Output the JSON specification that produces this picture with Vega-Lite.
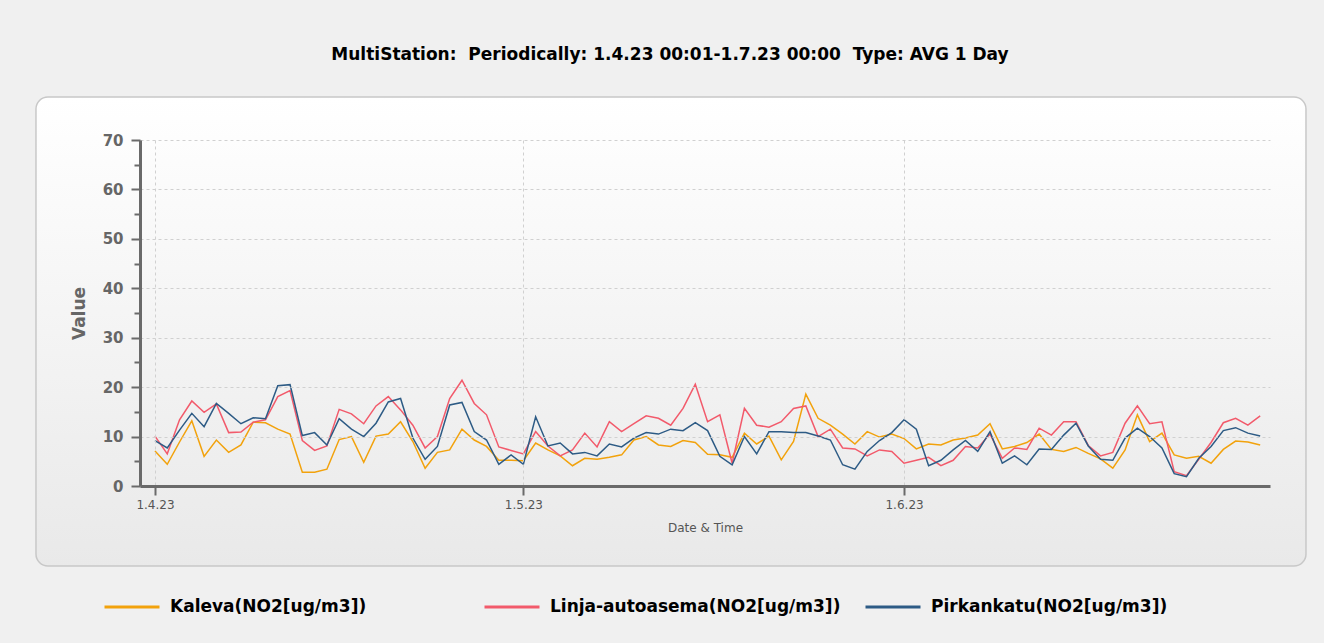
{
  "$schema": "https://vega.github.io/schema/vega-lite/v6.json",
  "width": 1130,
  "height": 346,
  "autosize": {"type": "none"},
  "padding": {"left": 140, "top": 140, "right": 54, "bottom": 157},
  "background": "#f0f0f0",
  "title": {
    "text": "MultiStation: \u00a0Periodically: 1.4.23 00:01-1.7.23 00:00 \u00a0Type: AVG 1 Day",
    "anchor": "middle",
    "dx": -35,
    "offset": 32,
    "font": "DejaVu Sans",
    "fontSize": 17,
    "fontWeight": "bold",
    "color": "#000000"
  },
  "config": {"view": {"stroke": null}, "font": "DejaVu Sans"},
  "datasets": {
    "no2": [
      {"date":"2023-04-01","station":"Kaleva(NO2[ug/m3])","value":7.1},
      {"date":"2023-04-02","station":"Kaleva(NO2[ug/m3])","value":4.4},
      {"date":"2023-04-03","station":"Kaleva(NO2[ug/m3])","value":8.9},
      {"date":"2023-04-04","station":"Kaleva(NO2[ug/m3])","value":13.2},
      {"date":"2023-04-05","station":"Kaleva(NO2[ug/m3])","value":6.0},
      {"date":"2023-04-06","station":"Kaleva(NO2[ug/m3])","value":9.3},
      {"date":"2023-04-07","station":"Kaleva(NO2[ug/m3])","value":6.8},
      {"date":"2023-04-08","station":"Kaleva(NO2[ug/m3])","value":8.3},
      {"date":"2023-04-09","station":"Kaleva(NO2[ug/m3])","value":12.9},
      {"date":"2023-04-10","station":"Kaleva(NO2[ug/m3])","value":12.8},
      {"date":"2023-04-11","station":"Kaleva(NO2[ug/m3])","value":11.5},
      {"date":"2023-04-12","station":"Kaleva(NO2[ug/m3])","value":10.5},
      {"date":"2023-04-13","station":"Kaleva(NO2[ug/m3])","value":2.8},
      {"date":"2023-04-14","station":"Kaleva(NO2[ug/m3])","value":2.8},
      {"date":"2023-04-15","station":"Kaleva(NO2[ug/m3])","value":3.4},
      {"date":"2023-04-16","station":"Kaleva(NO2[ug/m3])","value":9.4},
      {"date":"2023-04-17","station":"Kaleva(NO2[ug/m3])","value":10.0},
      {"date":"2023-04-18","station":"Kaleva(NO2[ug/m3])","value":4.8},
      {"date":"2023-04-19","station":"Kaleva(NO2[ug/m3])","value":10.1},
      {"date":"2023-04-20","station":"Kaleva(NO2[ug/m3])","value":10.5},
      {"date":"2023-04-21","station":"Kaleva(NO2[ug/m3])","value":13.0},
      {"date":"2023-04-22","station":"Kaleva(NO2[ug/m3])","value":9.0},
      {"date":"2023-04-23","station":"Kaleva(NO2[ug/m3])","value":3.6},
      {"date":"2023-04-24","station":"Kaleva(NO2[ug/m3])","value":6.8},
      {"date":"2023-04-25","station":"Kaleva(NO2[ug/m3])","value":7.3},
      {"date":"2023-04-26","station":"Kaleva(NO2[ug/m3])","value":11.5},
      {"date":"2023-04-27","station":"Kaleva(NO2[ug/m3])","value":9.3},
      {"date":"2023-04-28","station":"Kaleva(NO2[ug/m3])","value":8.0},
      {"date":"2023-04-29","station":"Kaleva(NO2[ug/m3])","value":5.2},
      {"date":"2023-04-30","station":"Kaleva(NO2[ug/m3])","value":5.2},
      {"date":"2023-05-01","station":"Kaleva(NO2[ug/m3])","value":5.1},
      {"date":"2023-05-02","station":"Kaleva(NO2[ug/m3])","value":8.7},
      {"date":"2023-05-03","station":"Kaleva(NO2[ug/m3])","value":7.3},
      {"date":"2023-05-04","station":"Kaleva(NO2[ug/m3])","value":6.1},
      {"date":"2023-05-05","station":"Kaleva(NO2[ug/m3])","value":4.1},
      {"date":"2023-05-06","station":"Kaleva(NO2[ug/m3])","value":5.6},
      {"date":"2023-05-07","station":"Kaleva(NO2[ug/m3])","value":5.4},
      {"date":"2023-05-08","station":"Kaleva(NO2[ug/m3])","value":5.8},
      {"date":"2023-05-09","station":"Kaleva(NO2[ug/m3])","value":6.3},
      {"date":"2023-05-10","station":"Kaleva(NO2[ug/m3])","value":9.3},
      {"date":"2023-05-11","station":"Kaleva(NO2[ug/m3])","value":10.0},
      {"date":"2023-05-12","station":"Kaleva(NO2[ug/m3])","value":8.3},
      {"date":"2023-05-13","station":"Kaleva(NO2[ug/m3])","value":8.0},
      {"date":"2023-05-14","station":"Kaleva(NO2[ug/m3])","value":9.2},
      {"date":"2023-05-15","station":"Kaleva(NO2[ug/m3])","value":8.8},
      {"date":"2023-05-16","station":"Kaleva(NO2[ug/m3])","value":6.4},
      {"date":"2023-05-17","station":"Kaleva(NO2[ug/m3])","value":6.3},
      {"date":"2023-05-18","station":"Kaleva(NO2[ug/m3])","value":5.8},
      {"date":"2023-05-19","station":"Kaleva(NO2[ug/m3])","value":10.7},
      {"date":"2023-05-20","station":"Kaleva(NO2[ug/m3])","value":8.5},
      {"date":"2023-05-21","station":"Kaleva(NO2[ug/m3])","value":10.1},
      {"date":"2023-05-22","station":"Kaleva(NO2[ug/m3])","value":5.3},
      {"date":"2023-05-23","station":"Kaleva(NO2[ug/m3])","value":9.0},
      {"date":"2023-05-24","station":"Kaleva(NO2[ug/m3])","value":18.6},
      {"date":"2023-05-25","station":"Kaleva(NO2[ug/m3])","value":13.7},
      {"date":"2023-05-26","station":"Kaleva(NO2[ug/m3])","value":12.3},
      {"date":"2023-05-27","station":"Kaleva(NO2[ug/m3])","value":10.5},
      {"date":"2023-05-28","station":"Kaleva(NO2[ug/m3])","value":8.5},
      {"date":"2023-05-29","station":"Kaleva(NO2[ug/m3])","value":11.0},
      {"date":"2023-05-30","station":"Kaleva(NO2[ug/m3])","value":9.9},
      {"date":"2023-05-31","station":"Kaleva(NO2[ug/m3])","value":10.5},
      {"date":"2023-06-01","station":"Kaleva(NO2[ug/m3])","value":9.6},
      {"date":"2023-06-02","station":"Kaleva(NO2[ug/m3])","value":7.5},
      {"date":"2023-06-03","station":"Kaleva(NO2[ug/m3])","value":8.5},
      {"date":"2023-06-04","station":"Kaleva(NO2[ug/m3])","value":8.3},
      {"date":"2023-06-05","station":"Kaleva(NO2[ug/m3])","value":9.3},
      {"date":"2023-06-06","station":"Kaleva(NO2[ug/m3])","value":9.7},
      {"date":"2023-06-07","station":"Kaleva(NO2[ug/m3])","value":10.3},
      {"date":"2023-06-08","station":"Kaleva(NO2[ug/m3])","value":12.6},
      {"date":"2023-06-09","station":"Kaleva(NO2[ug/m3])","value":7.5},
      {"date":"2023-06-10","station":"Kaleva(NO2[ug/m3])","value":8.0},
      {"date":"2023-06-11","station":"Kaleva(NO2[ug/m3])","value":8.8},
      {"date":"2023-06-12","station":"Kaleva(NO2[ug/m3])","value":10.5},
      {"date":"2023-06-13","station":"Kaleva(NO2[ug/m3])","value":7.4},
      {"date":"2023-06-14","station":"Kaleva(NO2[ug/m3])","value":7.0},
      {"date":"2023-06-15","station":"Kaleva(NO2[ug/m3])","value":7.8},
      {"date":"2023-06-16","station":"Kaleva(NO2[ug/m3])","value":6.6},
      {"date":"2023-06-17","station":"Kaleva(NO2[ug/m3])","value":5.5},
      {"date":"2023-06-18","station":"Kaleva(NO2[ug/m3])","value":3.6},
      {"date":"2023-06-19","station":"Kaleva(NO2[ug/m3])","value":7.3},
      {"date":"2023-06-20","station":"Kaleva(NO2[ug/m3])","value":14.4},
      {"date":"2023-06-21","station":"Kaleva(NO2[ug/m3])","value":9.0},
      {"date":"2023-06-22","station":"Kaleva(NO2[ug/m3])","value":10.7},
      {"date":"2023-06-23","station":"Kaleva(NO2[ug/m3])","value":6.3},
      {"date":"2023-06-24","station":"Kaleva(NO2[ug/m3])","value":5.6},
      {"date":"2023-06-25","station":"Kaleva(NO2[ug/m3])","value":6.0},
      {"date":"2023-06-26","station":"Kaleva(NO2[ug/m3])","value":4.6},
      {"date":"2023-06-27","station":"Kaleva(NO2[ug/m3])","value":7.4},
      {"date":"2023-06-28","station":"Kaleva(NO2[ug/m3])","value":9.1},
      {"date":"2023-06-29","station":"Kaleva(NO2[ug/m3])","value":8.9},
      {"date":"2023-06-30","station":"Kaleva(NO2[ug/m3])","value":8.3},

      {"date":"2023-04-01","station":"Linja-autoasema(NO2[ug/m3])","value":10.1},
      {"date":"2023-04-02","station":"Linja-autoasema(NO2[ug/m3])","value":6.5},
      {"date":"2023-04-03","station":"Linja-autoasema(NO2[ug/m3])","value":13.4},
      {"date":"2023-04-04","station":"Linja-autoasema(NO2[ug/m3])","value":17.2},
      {"date":"2023-04-05","station":"Linja-autoasema(NO2[ug/m3])","value":14.9},
      {"date":"2023-04-06","station":"Linja-autoasema(NO2[ug/m3])","value":16.6},
      {"date":"2023-04-07","station":"Linja-autoasema(NO2[ug/m3])","value":10.8},
      {"date":"2023-04-08","station":"Linja-autoasema(NO2[ug/m3])","value":10.9},
      {"date":"2023-04-09","station":"Linja-autoasema(NO2[ug/m3])","value":12.9},
      {"date":"2023-04-10","station":"Linja-autoasema(NO2[ug/m3])","value":13.4},
      {"date":"2023-04-11","station":"Linja-autoasema(NO2[ug/m3])","value":18.1},
      {"date":"2023-04-12","station":"Linja-autoasema(NO2[ug/m3])","value":19.3},
      {"date":"2023-04-13","station":"Linja-autoasema(NO2[ug/m3])","value":9.2},
      {"date":"2023-04-14","station":"Linja-autoasema(NO2[ug/m3])","value":7.2},
      {"date":"2023-04-15","station":"Linja-autoasema(NO2[ug/m3])","value":8.1},
      {"date":"2023-04-16","station":"Linja-autoasema(NO2[ug/m3])","value":15.5},
      {"date":"2023-04-17","station":"Linja-autoasema(NO2[ug/m3])","value":14.6},
      {"date":"2023-04-18","station":"Linja-autoasema(NO2[ug/m3])","value":12.6},
      {"date":"2023-04-19","station":"Linja-autoasema(NO2[ug/m3])","value":16.2},
      {"date":"2023-04-20","station":"Linja-autoasema(NO2[ug/m3])","value":18.1},
      {"date":"2023-04-21","station":"Linja-autoasema(NO2[ug/m3])","value":15.4},
      {"date":"2023-04-22","station":"Linja-autoasema(NO2[ug/m3])","value":12.3},
      {"date":"2023-04-23","station":"Linja-autoasema(NO2[ug/m3])","value":7.7},
      {"date":"2023-04-24","station":"Linja-autoasema(NO2[ug/m3])","value":10.0},
      {"date":"2023-04-25","station":"Linja-autoasema(NO2[ug/m3])","value":17.7},
      {"date":"2023-04-26","station":"Linja-autoasema(NO2[ug/m3])","value":21.4},
      {"date":"2023-04-27","station":"Linja-autoasema(NO2[ug/m3])","value":16.7},
      {"date":"2023-04-28","station":"Linja-autoasema(NO2[ug/m3])","value":14.4},
      {"date":"2023-04-29","station":"Linja-autoasema(NO2[ug/m3])","value":7.9},
      {"date":"2023-04-30","station":"Linja-autoasema(NO2[ug/m3])","value":7.2},
      {"date":"2023-05-01","station":"Linja-autoasema(NO2[ug/m3])","value":6.5},
      {"date":"2023-05-02","station":"Linja-autoasema(NO2[ug/m3])","value":11.0},
      {"date":"2023-05-03","station":"Linja-autoasema(NO2[ug/m3])","value":8.1},
      {"date":"2023-05-04","station":"Linja-autoasema(NO2[ug/m3])","value":6.1},
      {"date":"2023-05-05","station":"Linja-autoasema(NO2[ug/m3])","value":7.3},
      {"date":"2023-05-06","station":"Linja-autoasema(NO2[ug/m3])","value":10.7},
      {"date":"2023-05-07","station":"Linja-autoasema(NO2[ug/m3])","value":7.9},
      {"date":"2023-05-08","station":"Linja-autoasema(NO2[ug/m3])","value":13.0},
      {"date":"2023-05-09","station":"Linja-autoasema(NO2[ug/m3])","value":11.0},
      {"date":"2023-05-10","station":"Linja-autoasema(NO2[ug/m3])","value":12.6},
      {"date":"2023-05-11","station":"Linja-autoasema(NO2[ug/m3])","value":14.2},
      {"date":"2023-05-12","station":"Linja-autoasema(NO2[ug/m3])","value":13.7},
      {"date":"2023-05-13","station":"Linja-autoasema(NO2[ug/m3])","value":12.3},
      {"date":"2023-05-14","station":"Linja-autoasema(NO2[ug/m3])","value":15.7},
      {"date":"2023-05-15","station":"Linja-autoasema(NO2[ug/m3])","value":20.6},
      {"date":"2023-05-16","station":"Linja-autoasema(NO2[ug/m3])","value":13.0},
      {"date":"2023-05-17","station":"Linja-autoasema(NO2[ug/m3])","value":14.4},
      {"date":"2023-05-18","station":"Linja-autoasema(NO2[ug/m3])","value":4.6},
      {"date":"2023-05-19","station":"Linja-autoasema(NO2[ug/m3])","value":15.7},
      {"date":"2023-05-20","station":"Linja-autoasema(NO2[ug/m3])","value":12.3},
      {"date":"2023-05-21","station":"Linja-autoasema(NO2[ug/m3])","value":11.9},
      {"date":"2023-05-22","station":"Linja-autoasema(NO2[ug/m3])","value":13.0},
      {"date":"2023-05-23","station":"Linja-autoasema(NO2[ug/m3])","value":15.7},
      {"date":"2023-05-24","station":"Linja-autoasema(NO2[ug/m3])","value":16.2},
      {"date":"2023-05-25","station":"Linja-autoasema(NO2[ug/m3])","value":10.0},
      {"date":"2023-05-26","station":"Linja-autoasema(NO2[ug/m3])","value":11.5},
      {"date":"2023-05-27","station":"Linja-autoasema(NO2[ug/m3])","value":7.7},
      {"date":"2023-05-28","station":"Linja-autoasema(NO2[ug/m3])","value":7.5},
      {"date":"2023-05-29","station":"Linja-autoasema(NO2[ug/m3])","value":6.1},
      {"date":"2023-05-30","station":"Linja-autoasema(NO2[ug/m3])","value":7.3},
      {"date":"2023-05-31","station":"Linja-autoasema(NO2[ug/m3])","value":7.0},
      {"date":"2023-06-01","station":"Linja-autoasema(NO2[ug/m3])","value":4.6},
      {"date":"2023-06-02","station":"Linja-autoasema(NO2[ug/m3])","value":5.2},
      {"date":"2023-06-03","station":"Linja-autoasema(NO2[ug/m3])","value":5.8},
      {"date":"2023-06-04","station":"Linja-autoasema(NO2[ug/m3])","value":4.1},
      {"date":"2023-06-05","station":"Linja-autoasema(NO2[ug/m3])","value":5.2},
      {"date":"2023-06-06","station":"Linja-autoasema(NO2[ug/m3])","value":8.0},
      {"date":"2023-06-07","station":"Linja-autoasema(NO2[ug/m3])","value":7.7},
      {"date":"2023-06-08","station":"Linja-autoasema(NO2[ug/m3])","value":10.5},
      {"date":"2023-06-09","station":"Linja-autoasema(NO2[ug/m3])","value":5.6},
      {"date":"2023-06-10","station":"Linja-autoasema(NO2[ug/m3])","value":7.7},
      {"date":"2023-06-11","station":"Linja-autoasema(NO2[ug/m3])","value":7.4},
      {"date":"2023-06-12","station":"Linja-autoasema(NO2[ug/m3])","value":11.7},
      {"date":"2023-06-13","station":"Linja-autoasema(NO2[ug/m3])","value":10.3},
      {"date":"2023-06-14","station":"Linja-autoasema(NO2[ug/m3])","value":13.0},
      {"date":"2023-06-15","station":"Linja-autoasema(NO2[ug/m3])","value":13.0},
      {"date":"2023-06-16","station":"Linja-autoasema(NO2[ug/m3])","value":8.2},
      {"date":"2023-06-17","station":"Linja-autoasema(NO2[ug/m3])","value":6.1},
      {"date":"2023-06-18","station":"Linja-autoasema(NO2[ug/m3])","value":6.8},
      {"date":"2023-06-19","station":"Linja-autoasema(NO2[ug/m3])","value":12.7},
      {"date":"2023-06-20","station":"Linja-autoasema(NO2[ug/m3])","value":16.2},
      {"date":"2023-06-21","station":"Linja-autoasema(NO2[ug/m3])","value":12.6},
      {"date":"2023-06-22","station":"Linja-autoasema(NO2[ug/m3])","value":13.0},
      {"date":"2023-06-23","station":"Linja-autoasema(NO2[ug/m3])","value":2.9},
      {"date":"2023-06-24","station":"Linja-autoasema(NO2[ug/m3])","value":2.1},
      {"date":"2023-06-25","station":"Linja-autoasema(NO2[ug/m3])","value":5.4},
      {"date":"2023-06-26","station":"Linja-autoasema(NO2[ug/m3])","value":8.8},
      {"date":"2023-06-27","station":"Linja-autoasema(NO2[ug/m3])","value":12.8},
      {"date":"2023-06-28","station":"Linja-autoasema(NO2[ug/m3])","value":13.7},
      {"date":"2023-06-29","station":"Linja-autoasema(NO2[ug/m3])","value":12.3},
      {"date":"2023-06-30","station":"Linja-autoasema(NO2[ug/m3])","value":14.2},

      {"date":"2023-04-01","station":"Pirkankatu(NO2[ug/m3])","value":9.2},
      {"date":"2023-04-02","station":"Pirkankatu(NO2[ug/m3])","value":7.7},
      {"date":"2023-04-03","station":"Pirkankatu(NO2[ug/m3])","value":11.3},
      {"date":"2023-04-04","station":"Pirkankatu(NO2[ug/m3])","value":14.7},
      {"date":"2023-04-05","station":"Pirkankatu(NO2[ug/m3])","value":12.0},
      {"date":"2023-04-06","station":"Pirkankatu(NO2[ug/m3])","value":16.7},
      {"date":"2023-04-07","station":"Pirkankatu(NO2[ug/m3])","value":14.7},
      {"date":"2023-04-08","station":"Pirkankatu(NO2[ug/m3])","value":12.6},
      {"date":"2023-04-09","station":"Pirkankatu(NO2[ug/m3])","value":13.8},
      {"date":"2023-04-10","station":"Pirkankatu(NO2[ug/m3])","value":13.6},
      {"date":"2023-04-11","station":"Pirkankatu(NO2[ug/m3])","value":20.3},
      {"date":"2023-04-12","station":"Pirkankatu(NO2[ug/m3])","value":20.5},
      {"date":"2023-04-13","station":"Pirkankatu(NO2[ug/m3])","value":10.2},
      {"date":"2023-04-14","station":"Pirkankatu(NO2[ug/m3])","value":10.8},
      {"date":"2023-04-15","station":"Pirkankatu(NO2[ug/m3])","value":8.3},
      {"date":"2023-04-16","station":"Pirkankatu(NO2[ug/m3])","value":13.6},
      {"date":"2023-04-17","station":"Pirkankatu(NO2[ug/m3])","value":11.5},
      {"date":"2023-04-18","station":"Pirkankatu(NO2[ug/m3])","value":10.0},
      {"date":"2023-04-19","station":"Pirkankatu(NO2[ug/m3])","value":12.7},
      {"date":"2023-04-20","station":"Pirkankatu(NO2[ug/m3])","value":17.0},
      {"date":"2023-04-21","station":"Pirkankatu(NO2[ug/m3])","value":17.7},
      {"date":"2023-04-22","station":"Pirkankatu(NO2[ug/m3])","value":9.7},
      {"date":"2023-04-23","station":"Pirkankatu(NO2[ug/m3])","value":5.4},
      {"date":"2023-04-24","station":"Pirkankatu(NO2[ug/m3])","value":8.0},
      {"date":"2023-04-25","station":"Pirkankatu(NO2[ug/m3])","value":16.4},
      {"date":"2023-04-26","station":"Pirkankatu(NO2[ug/m3])","value":16.9},
      {"date":"2023-04-27","station":"Pirkankatu(NO2[ug/m3])","value":11.0},
      {"date":"2023-04-28","station":"Pirkankatu(NO2[ug/m3])","value":9.3},
      {"date":"2023-04-29","station":"Pirkankatu(NO2[ug/m3])","value":4.4},
      {"date":"2023-04-30","station":"Pirkankatu(NO2[ug/m3])","value":6.3},
      {"date":"2023-05-01","station":"Pirkankatu(NO2[ug/m3])","value":4.4},
      {"date":"2023-05-02","station":"Pirkankatu(NO2[ug/m3])","value":14.0},
      {"date":"2023-05-03","station":"Pirkankatu(NO2[ug/m3])","value":8.1},
      {"date":"2023-05-04","station":"Pirkankatu(NO2[ug/m3])","value":8.7},
      {"date":"2023-05-05","station":"Pirkankatu(NO2[ug/m3])","value":6.5},
      {"date":"2023-05-06","station":"Pirkankatu(NO2[ug/m3])","value":6.8},
      {"date":"2023-05-07","station":"Pirkankatu(NO2[ug/m3])","value":6.1},
      {"date":"2023-05-08","station":"Pirkankatu(NO2[ug/m3])","value":8.5},
      {"date":"2023-05-09","station":"Pirkankatu(NO2[ug/m3])","value":7.9},
      {"date":"2023-05-10","station":"Pirkankatu(NO2[ug/m3])","value":9.7},
      {"date":"2023-05-11","station":"Pirkankatu(NO2[ug/m3])","value":10.8},
      {"date":"2023-05-12","station":"Pirkankatu(NO2[ug/m3])","value":10.5},
      {"date":"2023-05-13","station":"Pirkankatu(NO2[ug/m3])","value":11.5},
      {"date":"2023-05-14","station":"Pirkankatu(NO2[ug/m3])","value":11.2},
      {"date":"2023-05-15","station":"Pirkankatu(NO2[ug/m3])","value":12.8},
      {"date":"2023-05-16","station":"Pirkankatu(NO2[ug/m3])","value":11.2},
      {"date":"2023-05-17","station":"Pirkankatu(NO2[ug/m3])","value":6.0},
      {"date":"2023-05-18","station":"Pirkankatu(NO2[ug/m3])","value":4.3},
      {"date":"2023-05-19","station":"Pirkankatu(NO2[ug/m3])","value":10.0},
      {"date":"2023-05-20","station":"Pirkankatu(NO2[ug/m3])","value":6.5},
      {"date":"2023-05-21","station":"Pirkankatu(NO2[ug/m3])","value":11.0},
      {"date":"2023-05-22","station":"Pirkankatu(NO2[ug/m3])","value":11.0},
      {"date":"2023-05-23","station":"Pirkankatu(NO2[ug/m3])","value":10.8},
      {"date":"2023-05-24","station":"Pirkankatu(NO2[ug/m3])","value":10.8},
      {"date":"2023-05-25","station":"Pirkankatu(NO2[ug/m3])","value":10.1},
      {"date":"2023-05-26","station":"Pirkankatu(NO2[ug/m3])","value":9.3},
      {"date":"2023-05-27","station":"Pirkankatu(NO2[ug/m3])","value":4.3},
      {"date":"2023-05-28","station":"Pirkankatu(NO2[ug/m3])","value":3.4},
      {"date":"2023-05-29","station":"Pirkankatu(NO2[ug/m3])","value":7.0},
      {"date":"2023-05-30","station":"Pirkankatu(NO2[ug/m3])","value":9.2},
      {"date":"2023-05-31","station":"Pirkankatu(NO2[ug/m3])","value":10.8},
      {"date":"2023-06-01","station":"Pirkankatu(NO2[ug/m3])","value":13.4},
      {"date":"2023-06-02","station":"Pirkankatu(NO2[ug/m3])","value":11.5},
      {"date":"2023-06-03","station":"Pirkankatu(NO2[ug/m3])","value":4.1},
      {"date":"2023-06-04","station":"Pirkankatu(NO2[ug/m3])","value":5.2},
      {"date":"2023-06-05","station":"Pirkankatu(NO2[ug/m3])","value":7.3},
      {"date":"2023-06-06","station":"Pirkankatu(NO2[ug/m3])","value":9.2},
      {"date":"2023-06-07","station":"Pirkankatu(NO2[ug/m3])","value":7.0},
      {"date":"2023-06-08","station":"Pirkankatu(NO2[ug/m3])","value":11.0},
      {"date":"2023-06-09","station":"Pirkankatu(NO2[ug/m3])","value":4.6},
      {"date":"2023-06-10","station":"Pirkankatu(NO2[ug/m3])","value":6.1},
      {"date":"2023-06-11","station":"Pirkankatu(NO2[ug/m3])","value":4.3},
      {"date":"2023-06-12","station":"Pirkankatu(NO2[ug/m3])","value":7.5},
      {"date":"2023-06-13","station":"Pirkankatu(NO2[ug/m3])","value":7.4},
      {"date":"2023-06-14","station":"Pirkankatu(NO2[ug/m3])","value":10.3},
      {"date":"2023-06-15","station":"Pirkankatu(NO2[ug/m3])","value":12.7},
      {"date":"2023-06-16","station":"Pirkankatu(NO2[ug/m3])","value":8.1},
      {"date":"2023-06-17","station":"Pirkankatu(NO2[ug/m3])","value":5.4},
      {"date":"2023-06-18","station":"Pirkankatu(NO2[ug/m3])","value":5.2},
      {"date":"2023-06-19","station":"Pirkankatu(NO2[ug/m3])","value":9.7},
      {"date":"2023-06-20","station":"Pirkankatu(NO2[ug/m3])","value":11.7},
      {"date":"2023-06-21","station":"Pirkankatu(NO2[ug/m3])","value":10.0},
      {"date":"2023-06-22","station":"Pirkankatu(NO2[ug/m3])","value":7.7},
      {"date":"2023-06-23","station":"Pirkankatu(NO2[ug/m3])","value":2.5},
      {"date":"2023-06-24","station":"Pirkankatu(NO2[ug/m3])","value":1.9},
      {"date":"2023-06-25","station":"Pirkankatu(NO2[ug/m3])","value":5.6},
      {"date":"2023-06-26","station":"Pirkankatu(NO2[ug/m3])","value":8.0},
      {"date":"2023-06-27","station":"Pirkankatu(NO2[ug/m3])","value":11.2},
      {"date":"2023-06-28","station":"Pirkankatu(NO2[ug/m3])","value":11.8},
      {"date":"2023-06-29","station":"Pirkankatu(NO2[ug/m3])","value":10.7},
      {"date":"2023-06-30","station":"Pirkankatu(NO2[ug/m3])","value":10.1}
    ]
  },
  "layer": [
    {
      "data": {"values": [{"panel": "frame"}]},
      "mark": {
        "type": "rect",
        "clip": false,
        "cornerRadius": 12,
        "stroke": "#c8c8c8",
        "strokeWidth": 1.5,
        "fill": {
          "gradient": "linear",
          "x1": 0, "y1": 0, "x2": 0, "y2": 1,
          "stops": [
            {"offset": 0, "color": "#ffffff"},
            {"offset": 1, "color": "#e9e9e9"}
          ]
        }
      },
      "encoding": {
        "x": {
          "datum": {"year": 2023, "month": 3, "date": 22, "hours": 7, "minutes": 26, "utc": true},
          "type": "temporal",
          "scale": {"type": "utc", "domain": [
            {"year": 2023, "month": 3, "date": 30, "hours": 18, "minutes": 44, "utc": true},
            {"year": 2023, "month": 6, "date": 30, "hours": 19, "minutes": 12, "utc": true}
          ]},
          "axis": {
            "title": "Date & Time",
            "values": [
              {"year": 2023, "month": 4, "date": 1, "utc": true},
              {"year": 2023, "month": 5, "date": 1, "utc": true},
              {"year": 2023, "month": 6, "date": 1, "utc": true}
            ],
            "labelExpr": "utcFormat(datum.value, '%-d.%-m.%y')",
            "grid": true,
            "gridColor": "#d0d0d0",
            "gridDash": [3, 3],
            "domainColor": "#6a6a6a",
            "domainWidth": 3,
            "tickColor": "#6a6a6a",
            "tickWidth": 2,
            "tickSize": 9,
            "labelFont": "DejaVu Sans",
            "labelFontSize": 12,
            "labelColor": "#555555",
            "labelPadding": 4,
            "titleFont": "DejaVu Sans",
            "titleFontSize": 12,
            "titleFontWeight": "normal",
            "titleColor": "#555555",
            "titlePadding": 12,
            "zindex": 1
          }
        },
        "x2": {"datum": {"year": 2023, "month": 7, "date": 3, "hours": 17, "minutes": 31, "utc": true}},
        "y": {
          "datum": 78.7,
          "type": "quantitative",
          "scale": {"domain": [0, 70]},
          "axis": {
            "title": "Value",
            "values": [0, 5, 10, 15, 20, 25, 30, 35, 40, 45, 50, 55, 60, 65, 70],
            "labelExpr": "datum.value % 10 == 0 ? datum.label : ''",
            "tickSize": {"condition": {"test": "datum.value % 10 == 0", "value": 9}, "value": 6},
            "grid": true,
            "gridOpacity": {"condition": {"test": "datum.value % 10 == 0 && datum.value > 0", "value": 1}, "value": 0},
            "gridColor": "#d0d0d0",
            "gridDash": [3, 3],
            "domainColor": "#6a6a6a",
            "domainWidth": 3,
            "tickColor": "#6a6a6a",
            "tickWidth": 2,
            "labelFont": "DejaVu Sans",
            "labelFontSize": 15,
            "labelFontWeight": "bold",
            "labelColor": "#666666",
            "labelPadding": 8,
            "titleFont": "DejaVu Sans",
            "titleFontSize": 17,
            "titleFontWeight": "bold",
            "titleColor": "#666666",
            "titlePadding": 14,
            "zindex": 1
          }
        },
        "y2": {"datum": -16.2}
      }
    },
    {
      "data": {"name": "no2"},
      "encoding": {
        "x": {
          "field": "date",
          "type": "temporal",
          "scale": {"type": "utc", "domain": [
            {"year": 2023, "month": 3, "date": 30, "hours": 18, "minutes": 44, "utc": true},
            {"year": 2023, "month": 6, "date": 30, "hours": 19, "minutes": 12, "utc": true}
          ]},
          "axis": {
            "title": "Date & Time",
            "values": [
              {"year": 2023, "month": 4, "date": 1, "utc": true},
              {"year": 2023, "month": 5, "date": 1, "utc": true},
              {"year": 2023, "month": 6, "date": 1, "utc": true}
            ],
            "labelExpr": "utcFormat(datum.value, '%-d.%-m.%y')",
            "grid": true,
            "gridColor": "#d0d0d0",
            "gridDash": [3, 3],
            "domainColor": "#6a6a6a",
            "domainWidth": 3,
            "tickColor": "#6a6a6a",
            "tickWidth": 2,
            "tickSize": 9,
            "labelFont": "DejaVu Sans",
            "labelFontSize": 12,
            "labelColor": "#555555",
            "labelPadding": 4,
            "titleFont": "DejaVu Sans",
            "titleFontSize": 12,
            "titleFontWeight": "normal",
            "titleColor": "#555555",
            "titlePadding": 12,
            "zindex": 1
          }
        },
        "y": {
          "field": "value",
          "type": "quantitative",
          "scale": {"domain": [0, 70]},
          "axis": {
            "title": "Value",
            "values": [0, 5, 10, 15, 20, 25, 30, 35, 40, 45, 50, 55, 60, 65, 70],
            "labelExpr": "datum.value % 10 == 0 ? datum.label : ''",
            "tickSize": {"condition": {"test": "datum.value % 10 == 0", "value": 9}, "value": 6},
            "grid": true,
            "gridOpacity": {"condition": {"test": "datum.value % 10 == 0 && datum.value > 0", "value": 1}, "value": 0},
            "gridColor": "#d0d0d0",
            "gridDash": [3, 3],
            "domainColor": "#6a6a6a",
            "domainWidth": 3,
            "tickColor": "#6a6a6a",
            "tickWidth": 2,
            "labelFont": "DejaVu Sans",
            "labelFontSize": 15,
            "labelFontWeight": "bold",
            "labelColor": "#666666",
            "labelPadding": 8,
            "titleFont": "DejaVu Sans",
            "titleFontSize": 17,
            "titleFontWeight": "bold",
            "titleColor": "#666666",
            "titlePadding": 14,
            "zindex": 1
          }
        }
      },
      "layer": [
        {
          "transform": [{"filter": "datum.station == 'Kaleva(NO2[ug/m3])'"}],
          "mark": {"type": "line", "strokeWidth": 1.5},
          "encoding": {
            "stroke": {
              "field": "station",
              "type": "nominal",
              "scale": {"domain": ["Kaleva(NO2[ug/m3])"], "range": ["#f2a20c"]},
              "legend": {
                "title": null, "orient": "none", "legendX": -37, "legendY": 438, "padding": 0,
                "symbolType": "stroke", "symbolSize": 3025, "symbolStrokeWidth": 3,
                "labelFont": "DejaVu Sans", "labelFontSize": 17, "labelFontWeight": "bold",
                "labelColor": "#000000", "labelOffset": 9, "labelLimit": 500
              }
            }
          }
        },
        {
          "transform": [{"filter": "datum.station == 'Linja-autoasema(NO2[ug/m3])'"}],
          "mark": {"type": "line", "strokeWidth": 1.5},
          "encoding": {
            "stroke": {
              "field": "station",
              "type": "nominal",
              "scale": {"domain": ["Linja-autoasema(NO2[ug/m3])"], "range": ["#f25a6b"]},
              "legend": {
                "title": null, "orient": "none", "legendX": 343, "legendY": 438, "padding": 0,
                "symbolType": "stroke", "symbolSize": 3025, "symbolStrokeWidth": 3,
                "labelFont": "DejaVu Sans", "labelFontSize": 17, "labelFontWeight": "bold",
                "labelColor": "#000000", "labelOffset": 9, "labelLimit": 500
              }
            }
          }
        },
        {
          "transform": [{"filter": "datum.station == 'Pirkankatu(NO2[ug/m3])'"}],
          "mark": {"type": "line", "strokeWidth": 1.5},
          "encoding": {
            "stroke": {
              "field": "station",
              "type": "nominal",
              "scale": {"domain": ["Pirkankatu(NO2[ug/m3])"], "range": ["#2d5b85"]},
              "legend": {
                "title": null, "orient": "none", "legendX": 724, "legendY": 438, "padding": 0,
                "symbolType": "stroke", "symbolSize": 3025, "symbolStrokeWidth": 3,
                "labelFont": "DejaVu Sans", "labelFontSize": 17, "labelFontWeight": "bold",
                "labelColor": "#000000", "labelOffset": 9, "labelLimit": 500
              }
            }
          }
        }
      ],
      "resolve": {"scale": {"stroke": "independent"}}
    }
  ],
  "resolve": {"scale": {"stroke": "independent"}}
}
